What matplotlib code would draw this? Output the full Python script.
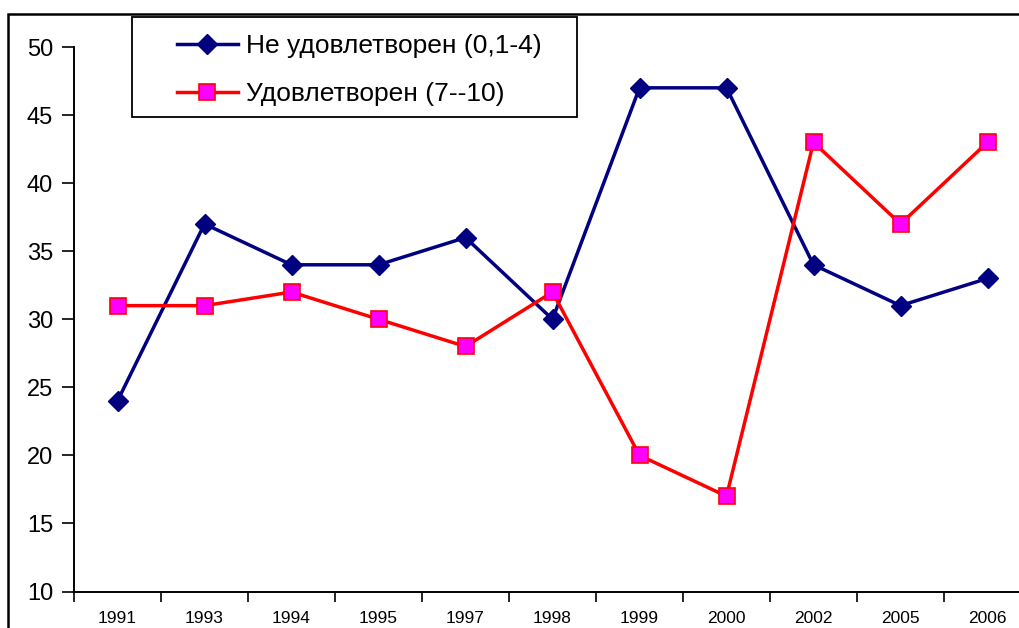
import matplotlib
matplotlib.use('Agg')
import matplotlib.pyplot as plt
from matplotlib.patches import Rectangle

years = ['1991', '1993', '1994', '1995', '1997', '1998', '1999', '2000', '2002', '2005', '2006']
not_satisfied = [24, 37, 34, 34, 36, 30, 47, 47, 34, 31, 33]
satisfied = [31, 31, 32, 30, 28, 32, 20, 17, 43, 37, 43]
label_not = 'Не удовлетворен (0,1-4)'
label_sat = 'Удовлетворен (7--10)'

plt.rcParams['font.family'] = ['Liberation Sans', 'DejaVu Sans']

W, H = 1019, 628
fig = plt.figure(figsize=(W / 100, H / 100), dpi=100)

# plot area: left spine at x=74, 87 px per category, y 50 at 47px, 10 at 591px
ax = fig.add_axes([74 / W, (H - 591.5) / H, 11 * 87 / W, (591.5 - 47) / H])
x = list(range(len(years)))
ax.plot(x, not_satisfied, color='#000080', lw=2.5, marker='D', ms=10,
        mec='#000080', mfc='#000080', label=label_not, clip_on=False)
ax.plot(x, satisfied, color='#FF0000', lw=2.5, marker='s', ms=12,
        mec='#FF0000', mfc='#FF00FF', mew=1.2, label=label_sat, clip_on=False)

ax.set_xlim(-0.5, len(years) - 0.5)
ax.set_ylim(10, 50)
ax.set_yticks(range(10, 51, 5))
ax.tick_params(axis='y', labelsize=17, length=9, width=1.2, direction='out', pad=6)
ax.set_xticks([i - 0.5 for i in range(len(years) + 1)], minor=False)
ax.set_xticklabels([])
ax.set_xticks(x, minor=True)
ax.set_xticklabels(years, minor=True)
ax.tick_params(axis='x', which='major', length=7, width=1.2, direction='out')
ax.tick_params(axis='x', which='minor', length=0, labelsize=12.5, pad=14)
ax.spines['top'].set_visible(False)
ax.spines['right'].set_visible(False)
ax.spines['left'].set_linewidth(1.4)
ax.spines['bottom'].set_linewidth(1.4)

# legend entries without frame, box drawn separately
leg = ax.legend(loc='upper left', bbox_to_anchor=(177 / W, 1 - 34 / H),
                bbox_transform=fig.transFigure, borderaxespad=0, borderpad=0,
                fontsize=19, frameon=False, handlelength=2.3,
                handletextpad=0.3, labelspacing=0.92)
fig.patches.append(Rectangle((132 / W, 1 - 117 / H), (577 - 132) / W, 100 / H,
                             transform=fig.transFigure, fill=False,
                             edgecolor='black', lw=1.3))

# outer chart border (right and bottom edges fall outside the image)
fig.patches.append(Rectangle((8 / W, -0.1), 1.2, 1 - 14 / H + 0.1, transform=fig.transFigure,
                             fill=False, edgecolor='black', lw=1.8))

fig.savefig('out.png', dpi=100)
